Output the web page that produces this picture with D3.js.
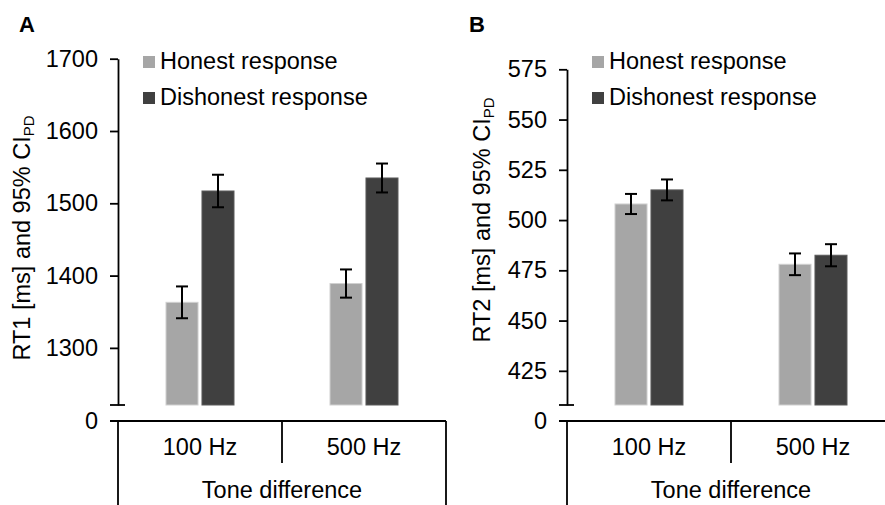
<!DOCTYPE html>
<html>
<head>
<meta charset="utf-8">
<script src="https://cdn.jsdelivr.net/npm/d3@7"></script>
<style>
  body { margin: 0; background: #fff; }
  svg { font-family: "Liberation Sans", Arial, sans-serif; }
</style>
</head>
<body>
<div id="chart"></div>
<script>
// data
var categories = ['100 Hz', '500 Hz'];
var series = ['Honest response', 'Dishonest response'];
var colors = ['#a6a6a6', '#404040'];

// panel A: RT1
var rt1Honest = [1363, 1389];
var rt1Dishonest = [1517, 1535];
var rt1HonestErr = [22, 19.5];
var rt1DishonestErr = [22.5, 20];
var rt1Ticks = [1300, 1400, 1500, 1600, 1700];

// panel B: RT2
var rt2Honest = [508, 478];
var rt2Dishonest = [515, 482.5];
var rt2HonestErr = [5, 5.4];
var rt2DishonestErr = [5.2, 5.5];
var rt2Ticks = [425, 450, 475, 500, 525, 550, 575];

var baseLabel = '0';
var xTitle = 'Tone difference';

var width = 885, height = 505;
var fontSize = 23.5;

var svg = d3.select('#chart')
  .append('svg')
  .attr('width', width)
  .attr('height', height);

function panel(opt) {
  var g = svg.append('g');

  var y = d3.scaleLinear()
    .domain(opt.domain)
    .range([opt.breakY, opt.topY]);

  var x0 = d3.scaleBand()
    .domain(categories)
    .range([opt.left, opt.right]);

  var half = x0.bandwidth() / 2;
  var x1 = d3.scaleBand()
    .domain(series)
    .range([half - 34, half + 34])
    .paddingInner(0.11);

  // y axis
  var yAxis = g.append('g')
    .attr('transform', 'translate(' + opt.left + ',0)')
    .call(d3.axisLeft(y).tickValues(opt.ticks).tickFormat(d3.format('d'))
      .tickSize(8).tickSizeOuter(0).tickPadding(12));
  yAxis.select('.domain').attr('stroke', '#000').attr('stroke-width', 1.8);
  yAxis.selectAll('.tick line').attr('stroke', '#000').attr('stroke-width', 1.8);
  yAxis.selectAll('.tick text')
    .attr('fill', '#000')
    .style('font-size', fontSize + 'px');

  // axis break mark
  g.append('line')
    .attr('x1', opt.left - 8).attr('x2', opt.left + 7)
    .attr('y1', opt.breakY).attr('y2', opt.breakY)
    .attr('stroke', '#000').attr('stroke-width', 1.8);

  // zero baseline + category frame
  var baseY = opt.baseY;
  g.append('line')
    .attr('x1', opt.left - 8).attr('x2', Math.min(opt.right, width))
    .attr('y1', baseY).attr('y2', baseY)
    .attr('stroke', '#000').attr('stroke-width', 1.8);
  g.append('text')
    .attr('x', opt.left - 20)
    .attr('y', baseY)
    .attr('dy', '0.32em')
    .attr('text-anchor', 'end')
    .style('font-size', fontSize + 'px')
    .text(baseLabel);

  g.append('line')
    .attr('x1', opt.left).attr('x2', opt.left)
    .attr('y1', baseY).attr('y2', height)
    .attr('stroke', '#000').attr('stroke-width', 1.8);
  if (opt.right <= width) {
    g.append('line')
      .attr('x1', opt.right).attr('x2', opt.right)
      .attr('y1', baseY).attr('y2', height)
      .attr('stroke', '#000').attr('stroke-width', 1.8);
  }
  // separator between categories
  categories.slice(1).forEach(function(c) {
    g.append('line')
      .attr('x1', x0(c)).attr('x2', x0(c))
      .attr('y1', baseY).attr('y2', baseY + 42)
      .attr('stroke', '#000').attr('stroke-width', 1.8);
  });

  g.selectAll('text.cat')
    .data(categories)
    .enter()
    .append('text')
    .attr('class', 'cat')
    .attr('x', function(d) { return x0(d) + half; })
    .attr('y', baseY + 34)
    .attr('text-anchor', 'middle')
    .style('font-size', fontSize + 'px')
    .text(function(d) { return d; });

  g.append('text')
    .attr('x', (opt.left + opt.right) / 2)
    .attr('y', baseY + 77)
    .attr('text-anchor', 'middle')
    .style('font-size', fontSize + 'px')
    .text(xTitle);

  // bars
  var rows = [];
  categories.forEach(function(c, i) {
    rows.push({ cat: c, s: series[0], v: opt.honest[i], e: opt.honestErr[i], k: 0 });
    rows.push({ cat: c, s: series[1], v: opt.dishonest[i], e: opt.dishonestErr[i], k: 1 });
  });

  var bars = g.selectAll('g.bar')
    .data(rows)
    .enter()
    .append('g')
    .attr('class', 'bar')
    .attr('transform', function(d) { return 'translate(' + (x0(d.cat) + x1(d.s)) + ',0)'; });

  bars.append('rect')
    .attr('x', 0)
    .attr('width', x1.bandwidth())
    .attr('y', function(d) { return y(d.v); })
    .attr('height', function(d) { return opt.breakY - y(d.v); })
    .attr('fill', function(d) { return colors[d.k]; })
    .attr('stroke', function(d) { return d.k == 0 ? '#d0d0d0' : '#5a5a5a'; })
    .attr('stroke-width', 1);

  var cx = x1.bandwidth() / 2;
  bars.append('line')
    .attr('x1', cx).attr('x2', cx)
    .attr('y1', function(d) { return y(d.v + d.e); })
    .attr('y2', function(d) { return y(d.v - d.e); })
    .attr('stroke', '#000').attr('stroke-width', 2);
  bars.append('line')
    .attr('x1', cx - 6).attr('x2', cx + 6)
    .attr('y1', function(d) { return y(d.v + d.e); })
    .attr('y2', function(d) { return y(d.v + d.e); })
    .attr('stroke', '#000').attr('stroke-width', 2);
  bars.append('line')
    .attr('x1', cx - 6).attr('x2', cx + 6)
    .attr('y1', function(d) { return y(d.v - d.e); })
    .attr('y2', function(d) { return y(d.v - d.e); })
    .attr('stroke', '#000').attr('stroke-width', 2);

  // legend
  var legend = g.selectAll('g.leg')
    .data(series)
    .enter()
    .append('g')
    .attr('class', 'leg')
    .attr('transform', function(d, i) { return 'translate(' + opt.legendX + ',' + (opt.legendY + i * 36) + ')'; });
  legend.append('rect')
    .attr('x', 0).attr('y', -12)
    .attr('width', 12).attr('height', 12)
    .attr('fill', function(d, i) { return colors[i]; });
  legend.append('text')
    .attr('x', 17)
    .attr('y', 0)
    .attr('dy', '0.05em')
    .style('font-size', fontSize + 'px')
    .text(function(d) { return d; });

  // y title
  var t = g.append('text')
    .attr('transform', 'translate(' + opt.titleX + ',' + opt.titleY + ') rotate(-90)')
    .attr('text-anchor', 'middle')
    .style('font-size', fontSize + 'px');
  t.append('tspan').text(opt.yLabel + ' and 95% CI');
  t.append('tspan').attr('dy', '0.25em').style('font-size', '15px').text('PD');

  // panel letter
  g.append('text')
    .attr('x', opt.letterX)
    .attr('y', 32)
    .style('font-size', '22px')
    .style('font-weight', 'bold')
    .text(opt.letter);
}

panel({
  letter: 'A', letterX: 19,
  yLabel: 'RT1 [ms]',
  domain: [1221, 1700], ticks: rt1Ticks,
  topY: 58.7, breakY: 405, baseY: 421,
  left: 118, right: 446,
  honest: rt1Honest, dishonest: rt1Dishonest,
  honestErr: rt1HonestErr, dishonestErr: rt1DishonestErr,
  legendX: 143, legendY: 68,
  titleX: 30, titleY: 238
});

panel({
  letter: 'B', letterX: 469,
  yLabel: 'RT2 [ms]',
  domain: [408, 575], ticks: rt2Ticks,
  topY: 69.3, breakY: 405, baseY: 421,
  left: 567, right: 895,
  honest: rt2Honest, dishonest: rt2Dishonest,
  honestErr: rt2HonestErr, dishonestErr: rt2DishonestErr,
  legendX: 592, legendY: 68,
  titleX: 490, titleY: 220
});
</script>
</body>
</html>
